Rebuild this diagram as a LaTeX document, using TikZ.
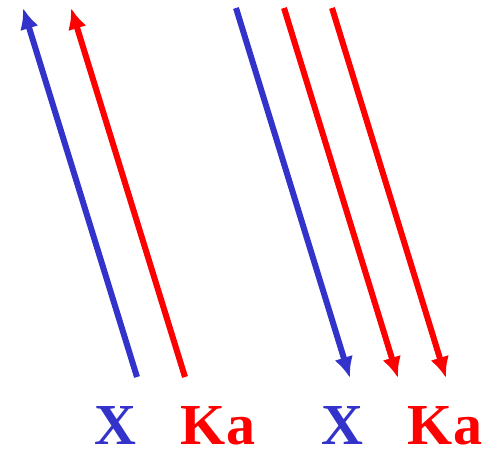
\documentclass[tikz,border=0pt]{standalone}
\usepackage{fontspec}
\newfontfamily\lblfont{LiberationSerif-Bold.ttf}
\usepackage{xcolor}
\definecolor{xblue}{HTML}{3333CC}
\definecolor{kared}{HTML}{FF0000}
\usetikzlibrary{arrows.meta}

\begin{document}
\begin{tikzpicture}[x=1pt,y=1pt]
\useasboundingbox (0,0) rectangle (495,448);
\tikzset{ray/.style={line width=6pt,-{Latex[length=21pt,width=19pt]}},
  lbl/.style={anchor=base,font=\lblfont\fontsize{58}{58}\selectfont,inner sep=0pt}}
% left pair, pointing up
\coordinate (b1s) at (137,71);
\coordinate (b1e) at (23,440);
\coordinate (r1s) at (185,71);
\coordinate (r1e) at (71,440);
\draw[ray,xblue] (b1s) -- (b1e);
\draw[ray,kared] (r1s) -- (r1e);
% right group, pointing down
\coordinate (b2s) at (236,440);
\coordinate (b2e) at (350,70);
\coordinate (r2s) at (284,440);
\coordinate (r2e) at (398,70);
\coordinate (r3s) at (332,440);
\coordinate (r3e) at (446,70);
\draw[ray,xblue] (b2s) -- (b2e);
\draw[ray,kared] (r2s) -- (r2e);
\draw[ray,kared] (r3s) -- (r3e);
% labels
\node[lbl,xblue] (x1) at (115,4) {X};
\node[lbl,kared] (ka1) at (218,4) {Ka};
\node[lbl,xblue] (x2) at (342,4) {X};
\node[lbl,kared] (ka2) at (445,4) {Ka};
\end{tikzpicture}
\end{document}
